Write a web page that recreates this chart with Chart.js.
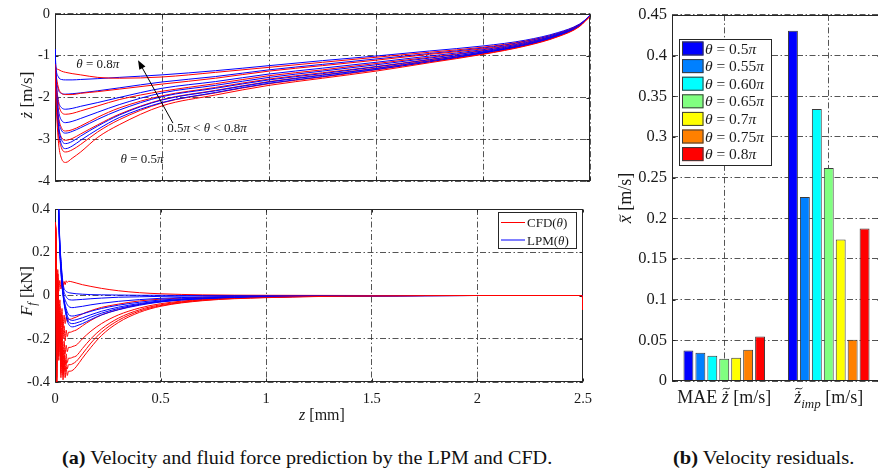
<!DOCTYPE html>
<html><head><meta charset="utf-8">
<script src="https://cdn.jsdelivr.net/npm/chart.js@4/dist/chart.umd.min.js"></script>
<style>
html,body{margin:0;padding:0;background:#fff;}
body{width:878px;height:475px;overflow:hidden;position:relative;}
canvas{position:absolute;}
.cap{position:absolute;top:447px;font:19px "Liberation Serif","DejaVu Serif",serif;color:#111;white-space:nowrap;line-height:22px;transform-origin:0 50%;}
</style></head><body>
<canvas id="velChart" width="600" height="195" style="left:0;top:0;width:600px;height:195px"></canvas>
<canvas id="forceChart" width="600" height="240" style="left:0;top:195px;width:600px;height:240px"></canvas>
<canvas id="barChart" width="290" height="420" style="left:600px;top:0;width:290px;height:420px"></canvas>
<div class="cap" style="left:62px;transform:scaleX(1.06)"><b>(a)</b> Velocity and fluid force prediction by the LPM and CFD.</div>
<div class="cap" style="left:673px;transform:scaleX(1.08)"><b>(b)</b> Velocity residuals.</div>
<script>
// ---- data -------------------------------------------------------------
const thetaNames = ['0.5π', '0.55π', '0.60π', '0.65π', '0.7π', '0.75π', '0.8π'];

// impact velocity ż [m/s] along the gap z [mm]
const zVel = [0, 0.005, 0.015, 0.03, 0.05, 0.08, 0.12, 0.2, 0.3, 0.5, 0.75, 1.0, 1.25, 1.5, 1.75, 2.0, 2.2, 2.35, 2.45, 2.5];
const velCFD = [
  [-1.2, -2.05, -3.0, -3.45, -3.55, -3.45, -3.3, -2.95, -2.65, -2.2, -1.94, -1.71, -1.54, -1.37, -1.17, -0.97, -0.77, -0.55, -0.31, -0.06],
  [-1.2, -1.95, -2.8, -3.2, -3.3, -3.25, -3.12, -2.82, -2.53, -2.13, -1.89, -1.67, -1.51, -1.34, -1.15, -0.96, -0.76, -0.54, -0.30, -0.06],
  [-1.2, -1.85, -2.6, -2.95, -3.02, -2.98, -2.87, -2.65, -2.4, -2.05, -1.83, -1.62, -1.46, -1.30, -1.12, -0.94, -0.75, -0.53, -0.30, -0.06],
  [-1.2, -1.75, -2.4, -2.72, -2.8, -2.77, -2.68, -2.47, -2.25, -1.96, -1.76, -1.56, -1.41, -1.26, -1.09, -0.92, -0.73, -0.52, -0.29, -0.06],
  [-1.2, -1.6, -2.1, -2.35, -2.4, -2.38, -2.32, -2.2, -2.05, -1.85, -1.67, -1.48, -1.34, -1.19, -1.04, -0.88, -0.71, -0.51, -0.28, -0.06],
  [-1.2, -1.45, -1.75, -1.9, -1.93, -1.93, -1.9, -1.86, -1.80, -1.68, -1.54, -1.37, -1.24, -1.11, -0.97, -0.84, -0.68, -0.49, -0.27, -0.06],
  [-1.2, -1.3, -1.33, -1.37, -1.40, -1.43, -1.46, -1.52, -1.54, -1.51, -1.40, -1.28, -1.16, -1.04, -0.92, -0.80, -0.65, -0.47, -0.26, -0.06]
];
const velLPM = [
  [-0.85, -1.8, -2.7, -3.12, -3.22, -3.16, -3.02, -2.76, -2.48, -2.12, -1.88, -1.66, -1.50, -1.33, -1.15, -0.94, -0.75, -0.53, -0.29, -0.05],
  [-0.85, -1.75, -2.6, -3.0, -3.1, -3.05, -2.92, -2.68, -2.42, -2.06, -1.84, -1.63, -1.47, -1.31, -1.13, -0.93, -0.74, -0.52, -0.29, -0.05],
  [-0.85, -1.7, -2.45, -2.78, -2.85, -2.81, -2.72, -2.52, -2.3, -1.98, -1.78, -1.58, -1.43, -1.27, -1.10, -0.91, -0.73, -0.51, -0.28, -0.05],
  [-0.85, -1.6, -2.25, -2.54, -2.6, -2.57, -2.5, -2.35, -2.17, -1.89, -1.71, -1.52, -1.37, -1.22, -1.06, -0.89, -0.71, -0.50, -0.28, -0.05],
  [-0.85, -1.55, -2.05, -2.24, -2.28, -2.26, -2.21, -2.12, -2.0, -1.78, -1.62, -1.44, -1.30, -1.16, -1.01, -0.86, -0.69, -0.49, -0.27, -0.05],
  [-0.85, -1.45, -1.8, -1.9, -1.92, -1.91, -1.89, -1.84, -1.77, -1.63, -1.50, -1.34, -1.21, -1.08, -0.95, -0.82, -0.66, -0.47, -0.26, -0.05],
  [-0.85, -1.3, -1.5, -1.57, -1.58, -1.58, -1.57, -1.55, -1.52, -1.46, -1.36, -1.24, -1.12, -1.01, -0.89, -0.77, -0.63, -0.45, -0.25, -0.05]
];

// fluid force F_f [kN] along the gap z [mm]
const zForceCFD = [0, 0.004, 0.008, 0.013, 0.018, 0.023, 0.028, 0.033, 0.038, 0.043, 0.048, 0.053, 0.058, 0.064, 0.072, 0.085, 0.1, 0.13, 0.17, 0.22, 0.3, 0.4, 0.5, 0.7, 1.0, 1.5, 2.0, 2.497, 2.5];
const forceCFD = [
  [0.34, 0.31, -0.40, 0.10, -0.28, -0.12, -0.38, -0.26, -0.39, -0.31, -0.38, -0.33, -0.37, -0.35, -0.35, -0.345, -0.33, -0.29, -0.24, -0.185, -0.125, -0.078, -0.05, -0.024, -0.01, -0.002, 0, 0, -0.065],
  [0.34, 0.30, -0.40, 0.04, -0.30, -0.15, -0.36, -0.24, -0.37, -0.28, -0.35, -0.30, -0.34, -0.32, -0.32, -0.315, -0.305, -0.27, -0.22, -0.17, -0.115, -0.072, -0.047, -0.022, -0.009, -0.002, 0, 0, -0.065],
  [0.33, 0.29, -0.40, 0.12, -0.26, -0.08, -0.33, -0.20, -0.34, -0.25, -0.32, -0.27, -0.31, -0.29, -0.29, -0.285, -0.28, -0.245, -0.20, -0.155, -0.105, -0.066, -0.043, -0.02, -0.008, -0.001, 0, 0, -0.065],
  [0.32, 0.30, -0.38, 0.06, -0.22, -0.10, -0.30, -0.16, -0.29, -0.21, -0.27, -0.23, -0.26, -0.24, -0.24, -0.235, -0.23, -0.20, -0.165, -0.13, -0.09, -0.058, -0.038, -0.018, -0.007, -0.001, 0, 0, -0.065],
  [0.33, 0.30, -0.30, 0.10, -0.18, -0.05, -0.22, -0.10, -0.20, -0.14, -0.21, -0.16, -0.19, -0.17, -0.17, -0.165, -0.16, -0.14, -0.115, -0.09, -0.065, -0.042, -0.028, -0.013, -0.005, -0.001, 0, 0, -0.065],
  [0.34, 0.28, -0.20, 0.05, -0.12, -0.02, -0.14, -0.06, -0.15, -0.09, -0.13, -0.10, -0.12, -0.11, -0.11, -0.105, -0.10, -0.085, -0.07, -0.055, -0.04, -0.025, -0.017, -0.008, -0.003, 0, 0, 0, -0.065],
  [0.34, 0.25, -0.02, 0.08, 0.02, 0.07, 0.03, 0.06, 0.04, 0.065, 0.05, 0.068, 0.06, 0.066, 0.065, 0.062, 0.058, 0.05, 0.042, 0.033, 0.022, 0.013, 0.008, 0.003, 0.001, 0, 0, 0, -0.065]
];
const zForceLPM = [0, 0.01, 0.02, 0.03, 0.04, 0.05, 0.06, 0.07, 0.085, 0.1, 0.13, 0.17, 0.22, 0.3, 0.4, 0.5, 0.7, 1.0, 1.5, 2.0, 2.5];
const forceLPM = [
  [1.6, 0.75, 0.28, 0.08, -0.015, -0.08, -0.122, -0.14, -0.145, -0.141, -0.13, -0.111, -0.09, -0.066, -0.045, -0.03, -0.015, -0.007, -0.002, 0, 0],
  [1.6, 0.75, 0.29, 0.09, -0.01, -0.07, -0.11, -0.127, -0.13, -0.127, -0.117, -0.1, -0.082, -0.06, -0.041, -0.028, -0.014, -0.006, -0.002, 0, 0],
  [1.6, 0.75, 0.30, 0.10, -0.005, -0.06, -0.098, -0.112, -0.115, -0.112, -0.103, -0.089, -0.073, -0.054, -0.037, -0.025, -0.013, -0.006, -0.002, 0, 0],
  [1.6, 0.76, 0.30, 0.11, 0.0, -0.05, -0.08, -0.093, -0.095, -0.092, -0.085, -0.073, -0.06, -0.045, -0.031, -0.021, -0.011, -0.005, -0.001, 0, 0],
  [1.6, 0.77, 0.31, 0.12, 0.01, -0.025, -0.045, -0.054, -0.056, -0.054, -0.05, -0.043, -0.036, -0.027, -0.019, -0.013, -0.007, -0.003, -0.001, 0, 0],
  [1.6, 0.78, 0.32, 0.13, 0.03, 0.0, -0.015, -0.02, -0.021, -0.02, -0.018, -0.015, -0.012, -0.008, -0.006, -0.004, -0.002, -0.001, 0, 0, 0],
  [1.6, 0.80, 0.33, 0.14, 0.045, 0.022, 0.015, 0.012, 0.01, 0.008, 0.006, 0.004, 0.003, 0.002, 0.001, 0.001, 0, 0, 0, 0, 0]
];

// axis ticks
const zTicks = [0, 0.5, 1, 1.5, 2, 2.5];
const zTickLabels = ['0', '0.5', '1', '1.5', '2', '2.5'];
const velTicks = [-4, -3, -2, -1, 0];
const velTickLabels = ['-4', '-3', '-2', '-1', '0'];
const forceTicks = [-0.4, -0.2, 0, 0.2, 0.4];
const forceTickLabels = ['-0.4', '-0.2', '0', '0.2', '0.4'];

// residuals
const residualGroups = ['MAE', 'imp'];
const maeResidual = [0.0375, 0.0347, 0.031, 0.0274, 0.0287, 0.0383, 0.0548];
const impResidual = [0.4306, 0.2262, 0.3342, 0.2617, 0.1738, 0.0508, 0.1875];
const residualTicks = [0, 0.05, 0.1, 0.15, 0.2, 0.25, 0.3, 0.35, 0.4, 0.45];
const residualTickLabels = ['0', '0.05', '0.1', '0.15', '0.2', '0.25', '0.3', '0.35', '0.4', '0.45'];

// ---- styling ----------------------------------------------------------
const SERIF = '"Liberation Serif","DejaVu Serif",serif';
const INK = '#1a1a1a';
const GRID = 'rgba(55,55,55,0.85)';
const GRID_DASH = [6, 2.5, 1.5, 2.5];
const CFD_COLOR = '#ff0000';
const LPM_COLOR = '#0000ff';
const thetaColors = ['#0000ff', '#0080ff', '#00ffff', '#80ff80', '#ffff00', '#ff8000', '#ff0000'];

// ---- text helpers (mixed roman / italic / sub / accents) ---------------
function fontOf(s, it) { return (it ? 'italic ' : '') + s + 'px ' + SERIF; }
function richWidth(ctx, parts) {
  let w = 0;
  for (const p of parts) { ctx.font = fontOf(p.s, p.it); w += ctx.measureText(p.t).width; }
  return w;
}
function drawAccent(ctx, kind, cx, by, s) {
  ctx.save();
  ctx.fillStyle = INK; ctx.strokeStyle = INK;
  let top = by - s * 0.47;
  if (kind.indexOf('dot') >= 0) {
    ctx.beginPath(); ctx.arc(cx, top - s * 0.13, s * 0.055, 0, Math.PI * 2); ctx.fill();
    top -= s * 0.2;
  }
  if (kind.indexOf('tilde') >= 0) {
    const yT = top - s * 0.13, hw = s * 0.2, a = s * 0.07;
    ctx.lineWidth = s * 0.055;
    ctx.beginPath();
    ctx.moveTo(cx - hw, yT + a * 0.6);
    ctx.bezierCurveTo(cx - hw * 0.4, yT - a * 1.4, cx + hw * 0.4, yT + a * 1.4, cx + hw, yT - a * 0.6);
    ctx.stroke();
  }
  ctx.restore();
}
function drawRich(ctx, parts, x, y, align) {
  const w = richWidth(ctx, parts);
  let cx = align === 'center' ? x - w / 2 : (align === 'right' ? x - w : x);
  ctx.save();
  ctx.fillStyle = INK; ctx.textBaseline = 'alphabetic'; ctx.textAlign = 'left';
  for (const p of parts) {
    ctx.font = fontOf(p.s, p.it);
    const by = y + (p.dy || 0);
    ctx.fillText(p.t, cx, by);
    const gw = ctx.measureText(p.t).width;
    if (p.acc) drawAccent(ctx, p.acc, cx + gw / 2 + (p.it ? p.s * 0.06 : 0), by, p.s);
    cx += gw;
  }
  ctx.restore();
}
function drawRotated(ctx, parts, x, y) {
  ctx.save(); ctx.translate(x, y); ctx.rotate(-Math.PI / 2);
  drawRich(ctx, parts, 0, 0, 'center');
  ctx.restore();
}
function thetaParts(name, s) {
  return [{t: 'θ', s: s, it: true}, {t: ' = ' + name.replace('π', ''), s: s}, {t: 'π', s: s, it: true}];
}

// axes box with small inward ticks on all four sides
function drawFrame(chart, xTickVals, yTickVals) {
  const {ctx, chartArea: a, scales} = chart;
  const L = Math.round(a.left) + 0.5, R = Math.round(a.right) - 0.5;
  const T = Math.round(a.top) + 0.5, B = Math.round(a.bottom) - 0.5;
  ctx.save();
  ctx.setLineDash([]);
  ctx.strokeStyle = '#262626'; ctx.lineWidth = 1;
  ctx.strokeRect(L, T, R - L, B - T);
  ctx.beginPath();
  const tl = 3;
  if (xTickVals) for (const v of xTickVals) {
    const X = Math.round(scales.x.getPixelForValue(v)) + 0.5;
    ctx.moveTo(X, B); ctx.lineTo(X, B - tl); ctx.moveTo(X, T); ctx.lineTo(X, T + tl);
  }
  for (const v of yTickVals) {
    const Y = Math.round(scales.y.getPixelForValue(v)) + 0.5;
    ctx.moveTo(L, Y); ctx.lineTo(L + tl, Y); ctx.moveTo(R, Y); ctx.lineTo(R - tl, Y);
  }
  ctx.stroke();
  ctx.restore();
}

// ---- shared line-chart options ----------------------------------------
function lineOptions(yMin, yMax, yTicks, yLabels, showX, pad, xHeight) {
  return {
    responsive: false, animation: false, events: [],
    layout: {padding: pad},
    plugins: {legend: {display: false}, tooltip: {enabled: false}},
    scales: {
      x: {
        type: 'linear', min: 0, max: 2.5,
        afterBuildTicks: s => { s.ticks = zTicks.map(v => ({value: v})); },
        afterFit: s => { s.height = xHeight; },
        grid: {color: GRID, lineWidth: 1, drawTicks: false},
        border: {display: false, dash: GRID_DASH},
        ticks: {display: showX, padding: 8, color: INK, font: {family: SERIF, size: 14.5},
                maxRotation: 0, autoSkip: false, callback: (v, i) => zTickLabels[i]}
      },
      y: {
        type: 'linear', min: yMin, max: yMax,
        afterBuildTicks: s => { s.ticks = yTicks.map(v => ({value: v})); },
        afterFit: s => { s.width = 55; },
        grid: {color: GRID, lineWidth: 1, drawTicks: false},
        border: {display: false, dash: GRID_DASH},
        ticks: {padding: 5, color: INK, font: {family: SERIF, size: 14.5},
                autoSkip: false, callback: (v, i) => yLabels[i]}
      }
    }
  };
}
function curveSets(zs, cfdRows, lpmRows) {
  const sets = [];
  for (let i = 0; i < thetaNames.length; i++) {
    sets.push({label: 'CFD ' + thetaNames[i], data: cfdRows[i].map((v, k) => ({x: zs.cfd[k], y: v})),
      borderColor: CFD_COLOR, borderWidth: 1, pointRadius: 0, cubicInterpolationMode: 'monotone', fill: false});
    sets.push({label: 'LPM ' + thetaNames[i], data: lpmRows[i].map((v, k) => ({x: zs.lpm[k], y: v})),
      borderColor: LPM_COLOR, borderWidth: 1, pointRadius: 0, cubicInterpolationMode: 'monotone', fill: false});
  }
  return sets;
}

// ---- velocity chart ---------------------------------------------------
new Chart(document.getElementById('velChart'), {
  type: 'line',
  data: {datasets: curveSets({cfd: zVel, lpm: zVel}, velCFD, velLPM)},
  options: lineOptions(-4, 0, velTicks, velTickLabels, false, {left: 0, right: 10, top: 9, bottom: 0}, 13),
  plugins: [{
    id: 'velDecor',
    beforeDatasetsDraw(chart) { drawFrame(chart, zTicks, velTicks); },
    afterDraw(chart) {
      const {ctx, scales} = chart;
      const X = v => scales.x.getPixelForValue(v), Y = v => scales.y.getPixelForValue(v);
      // axis title
      drawRotated(ctx, [{t: 'z', s: 17, it: true, acc: 'dot'}, {t: ' [m/s]', s: 17}], 32, 95);
      // annotations
      drawRich(ctx, thetaParts('0.8π', 13), X(0.2), Y(-1.2) + 4.5, 'center');
      drawRich(ctx, thetaParts('0.5π', 13), X(0.407), Y(-3.46) + 4.5, 'center');
      drawRich(ctx, [{t: '0.5', s: 13}, {t: 'π', s: 13, it: true}, {t: ' < ', s: 13}, {t: 'θ', s: 13, it: true},
                     {t: ' < 0.8', s: 13}, {t: 'π', s: 13, it: true}], X(0.71), Y(-2.72) + 4.5, 'center');
      // arrow across the family of curves
      const x0 = X(0.551), y0 = Y(-2.61), x1 = X(0.388), y1 = Y(-1.11);
      const ang = Math.atan2(y1 - y0, x1 - x0);
      ctx.save();
      ctx.strokeStyle = '#000'; ctx.fillStyle = '#000'; ctx.lineWidth = 1;
      ctx.beginPath(); ctx.moveTo(x0, y0); ctx.lineTo(x1 - 6 * Math.cos(ang), y1 - 6 * Math.sin(ang)); ctx.stroke();
      ctx.beginPath();
      ctx.moveTo(x1, y1);
      ctx.lineTo(x1 - 9 * Math.cos(ang) + 3.5 * Math.sin(ang), y1 - 9 * Math.sin(ang) - 3.5 * Math.cos(ang));
      ctx.lineTo(x1 - 9 * Math.cos(ang) - 3.5 * Math.sin(ang), y1 - 9 * Math.sin(ang) + 3.5 * Math.cos(ang));
      ctx.closePath(); ctx.fill();
      ctx.restore();
    }
  }]
});

// ---- force chart ------------------------------------------------------
new Chart(document.getElementById('forceChart'), {
  type: 'line',
  data: {datasets: curveSets({cfd: zForceCFD, lpm: zForceLPM}, forceCFD, forceLPM)},
  options: lineOptions(-0.4, 0.4, forceTicks, forceTickLabels, true, {left: 0, right: 10, top: 14, bottom: 0}, 53),
  plugins: [{
    id: 'forceDecor',
    beforeDatasetsDraw(chart) { drawFrame(chart, zTicks, forceTicks); },
    afterDraw(chart) {
      const {ctx} = chart;
      drawRotated(ctx, [{t: 'F', s: 17, it: true}, {t: 'f', s: 12, it: true, dy: 3.5}, {t: ' [kN]', s: 17}], 32, 96);
      drawRich(ctx, [{t: 'z', s: 16, it: true}, {t: ' [mm]', s: 16}], 322, 225, 'center');
      // legend
      ctx.save();
      ctx.fillStyle = '#fff'; ctx.fillRect(498.5, 17.5, 78, 36);
      ctx.strokeStyle = '#262626'; ctx.lineWidth = 1; ctx.strokeRect(498.5, 17.5, 78, 36);
      const rows = [['CFD', CFD_COLOR, 27.5], ['LPM', LPM_COLOR, 45]];
      for (const [name, col, yy] of rows) {
        ctx.strokeStyle = col; ctx.beginPath(); ctx.moveTo(501, yy); ctx.lineTo(525, yy); ctx.stroke();
        drawRich(ctx, [{t: name + '(', s: 13}, {t: 'θ', s: 13, it: true}, {t: ')', s: 13}], 527, yy + 4.5, 'left');
      }
      ctx.restore();
    }
  }]
});

// ---- residual bar chart -------------------------------------------------
new Chart(document.getElementById('barChart'), {
  type: 'bar',
  data: {
    labels: residualGroups,
    datasets: thetaNames.map((n, i) => ({
      label: n, data: [maeResidual[i], impResidual[i]],
      backgroundColor: thetaColors[i], borderColor: '#3a3a3a', borderWidth: 1,
      categoryPercentage: 0.8, barPercentage: 0.83
    }))
  },
  options: {
    responsive: false, animation: false, events: [],
    layout: {padding: {left: 0, right: 9, top: 9, bottom: 0}},
    plugins: {legend: {display: false}, tooltip: {enabled: false}},
    scales: {
      x: {
        grid: {offset: false, color: GRID, lineWidth: 1, drawTicks: false},
        border: {display: false, dash: GRID_DASH},
        ticks: {display: false},
        afterFit: s => { s.height = 39; }
      },
      y: {
        min: 0, max: 0.45,
        afterBuildTicks: s => { s.ticks = residualTicks.map(v => ({value: v})); },
        afterFit: s => { s.width = 72; },
        grid: {color: GRID, lineWidth: 1, drawTicks: false},
        border: {display: false, dash: GRID_DASH},
        ticks: {padding: 5, color: INK, font: {family: SERIF, size: 16.5}, autoSkip: false,
                callback: (v, i) => residualTickLabels[i]}
      }
    }
  },
  plugins: [{
    id: 'barDecor',
    afterDraw(chart) {
      const {ctx, scales} = chart;
      drawFrame(chart, null, residualTicks);
      drawRotated(ctx, [{t: 'x', s: 18, it: true, acc: 'tilde'}, {t: ' [m/s]', s: 18}], 31, 198);
      const yb = 403;
      drawRich(ctx, [{t: 'MAE ', s: 18}, {t: 'z', s: 18, it: true, acc: 'dottilde'}, {t: ' [m/s]', s: 18}],
               scales.x.getPixelForValue(0), yb, 'center');
      drawRich(ctx, [{t: 'z', s: 18, it: true, acc: 'dottilde'}, {t: 'imp', s: 13, it: true, dy: 4.5}, {t: ' [m/s]', s: 18}],
               scales.x.getPixelForValue(1), yb, 'center');
      // legend
      ctx.save();
      ctx.fillStyle = '#fff'; ctx.fillRect(79.5, 39.5, 92, 126);
      ctx.strokeStyle = '#262626'; ctx.lineWidth = 1; ctx.strokeRect(79.5, 39.5, 92, 126);
      thetaNames.forEach((n, i) => {
        const cy = 48.5 + i * 17.6;
        ctx.fillStyle = thetaColors[i]; ctx.fillRect(82, cy - 7, 21.5, 14);
        ctx.strokeStyle = '#3a3a3a'; ctx.strokeRect(82.5, cy - 6.5, 20.5, 13);
        drawRich(ctx, thetaParts(n, 15.5), 105, cy + 5, 'left');
      });
      ctx.restore();
    }
  }]
});
</script>
</body></html>
